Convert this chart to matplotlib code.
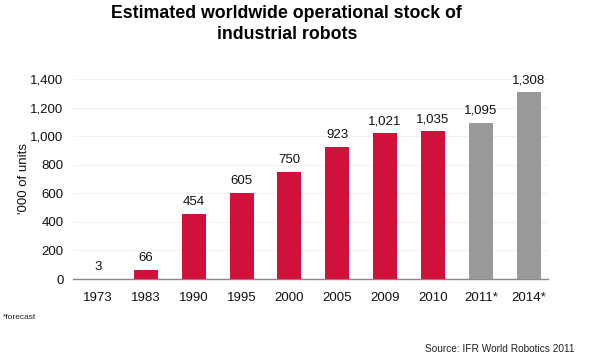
import matplotlib.pyplot as plt

plt.rcParams["font.family"] = ["Liberation Sans", "DejaVu Sans"]

years = ["1973", "1983", "1990", "1995", "2000", "2005", "2009", "2010", "2011*", "2014*"]
stock = [3, 66, 454, 605, 750, 923, 1021, 1035, 1095, 1308]
forecast = [False, False, False, False, False, False, False, False, True, True]

RED = "#d2103c"
GREY = "#999999"

fig = plt.figure(figsize=(6, 3.64), dpi=100)
ax = fig.add_axes([0.122, 0.2335, 0.791, 0.5495])

x = range(len(years))
colors = [GREY if f else RED for f in forecast]
bars = ax.bar(x, stock, width=0.5, color=colors, zorder=3)

for b, v in zip(bars, stock):
    ax.text(b.get_x() + b.get_width() / 2, v + 40, f"{v:,}",
            ha="center", va="bottom", fontsize=9.5, color="#111111")

ax.set_xlim(-0.52, 9.4)
ax.set_ylim(0, 1400)
ax.set_yticks(range(0, 1401, 200))
ax.set_yticklabels([f"{t:,}" for t in range(0, 1401, 200)])
ax.set_xticks(list(x))
ax.set_xticklabels(years)
ax.tick_params(axis="both", length=0, labelsize=9.5, colors="#111111")
ax.tick_params(axis="x", pad=9)
ax.tick_params(axis="y", pad=7)
ax.yaxis.grid(True, color="#f2f2f2", linewidth=0.8, zorder=0)

for s in ["top", "right", "left"]:
    ax.spines[s].set_visible(False)
ax.spines["bottom"].set_color("#888888")
ax.spines["bottom"].set_linewidth(1.0)

ax.set_ylabel("'000 of units", fontsize=9.5, color="#111111", labelpad=0)

fig.text(0.478, 0.985, "Estimated worldwide operational stock of\nindustrial robots",
         ha="center", va="top", fontsize=12.8, fontweight="bold", linespacing=1.25)
fig.text(0.005, 0.127, "*forecast", fontsize=6, color="#222222", ha="left", va="center")
fig.text(0.957, 0.04, "Source: IFR World Robotics 2011", fontsize=7.3, color="#222222",
         ha="right", va="center")

fig.savefig("out.png", dpi=100, facecolor="white")
